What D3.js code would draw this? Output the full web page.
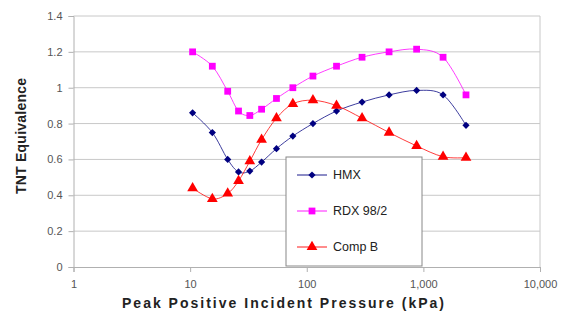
<!DOCTYPE html>
<html><head><meta charset="utf-8">
<script src="https://cdn.jsdelivr.net/npm/d3@7"></script>
<style>body{margin:0;background:#fff}svg{display:block;font-family:"Liberation Sans",Arial,sans-serif}</style>
</head><body><svg id="c" width="569" height="314"></svg>
<script>
const pressures = [10.5, 15.5, 21, 26, 32.5, 41, 55, 76, 113, 180, 298, 508, 875, 1475, 2320];
const hmx   = [0.86, 0.75, 0.60, 0.53, 0.535, 0.585, 0.66, 0.73, 0.80, 0.87, 0.92, 0.96, 0.985, 0.96, 0.79];
const rdx   = [1.20, 1.12, 0.98, 0.87, 0.845, 0.88, 0.94, 1.00, 1.065, 1.12, 1.17, 1.20, 1.215, 1.17, 0.96];
const compB = [0.44, 0.38, 0.41, 0.48, 0.59, 0.71, 0.83, 0.91, 0.93, 0.90, 0.83, 0.75, 0.675, 0.615, 0.61];
const seriesNames = ["HMX", "RDX 98/2", "Comp B"];
const seriesColors = ["#000080", "#ff00ff", "#ff0000"];
const xTicks = [1, 10, 100, 1000, 10000];
const yTicks = [0, 0.2, 0.4, 0.6, 0.8, 1, 1.2, 1.4];

const svg = d3.select("#c");
const L = 73.5, R = 540, T = 16, B = 267;
const x = d3.scaleLog().domain([1, 10000]).range([L, R]);
const y = d3.scaleLinear().domain([0, 1.4]).range([B, T]);

svg.append("g").selectAll("line").data(yTicks.filter(d => d > 0)).join("line")
  .attr("x1", L).attr("x2", R).attr("y1", d => y(d)).attr("y2", d => y(d))
  .attr("stroke", "#c8c8c8").attr("stroke-width", 1);
svg.append("line").attr("x1", R).attr("x2", R).attr("y1", T).attr("y2", B).attr("stroke", "#c8c8c8");

const yAxis = svg.append("g").attr("transform", `translate(${L},0)`)
  .call(d3.axisLeft(y).tickValues(yTicks).tickFormat(d => d3.format("")(+d.toFixed(1))).tickSize(5).tickPadding(6));
yAxis.select(".domain").attr("stroke", "#b0b0b0");
yAxis.selectAll(".tick line").attr("stroke", "#b0b0b0");
yAxis.selectAll("text").attr("font-size", 11).attr("fill", "#555").attr("font-family", "Liberation Sans, Arial, sans-serif");

const xAxis = svg.append("g").attr("transform", `translate(0,${B})`)
  .call(d3.axisBottom(x).tickValues(xTicks).tickFormat(d3.format(",")).tickSize(5).tickPadding(8));
xAxis.select(".domain").attr("stroke", "#b0b0b0");
xAxis.selectAll(".tick line").attr("stroke", "#b0b0b0");
xAxis.selectAll("text").attr("font-size", 11).attr("fill", "#555").attr("font-family", "Liberation Sans, Arial, sans-serif");

svg.append("text").attr("x", 283).attr("y", 308).attr("text-anchor", "middle")
  .attr("font-size", 14).attr("font-weight", "bold").attr("fill", "#222")
  .attr("textLength", 322).attr("lengthAdjust", "spacing")
  .text("Peak Positive Incident Pressure (kPa)");
svg.append("text").attr("transform", "translate(26,136) rotate(-90)").attr("text-anchor", "middle")
  .attr("font-size", 14).attr("font-weight", "bold").attr("fill", "#222")
  .attr("textLength", 116).attr("lengthAdjust", "spacing")
  .text("TNT Equivalence");

const seriesData = [hmx, rdx, compB];
const line = d3.line().x(d => x(d[0])).y(d => y(d[1])).curve(d3.curveCatmullRom.alpha(0));
const shapes = [
  d3.symbol().type(d3.symbolSquare).size(26)(),
  d3.symbol().type(d3.symbolSquare).size(46)(),
  d3.symbol().type(d3.symbolTriangle).size(50)()
];
const rot = [45, 0, 0];

seriesData.forEach((vals, i) => {
  const pts = pressures.map((p, j) => [p, vals[j]]);
  svg.append("path").datum(pts).attr("d", line).attr("fill", "none")
    .attr("stroke", seriesColors[i]).attr("stroke-width", 0.9).attr("opacity", 0.85);
  svg.append("g").selectAll("path").data(pts).join("path")
    .attr("d", shapes[i]).attr("transform", d => `translate(${x(d[0])},${y(d[1])}) rotate(${rot[i]})`)
    .attr("fill", seriesColors[i]);
});

const lg = svg.append("g");
lg.append("rect").attr("x", 286).attr("y", 157).attr("width", 136).attr("height", 109)
  .attr("fill", "#fff").attr("stroke", "#888").attr("stroke-width", 1);
const ly = [175, 211, 247];
seriesNames.forEach((n, i) => {
  lg.append("line").attr("x1", 297).attr("x2", 327).attr("y1", ly[i]).attr("y2", ly[i])
    .attr("stroke", seriesColors[i]).attr("stroke-width", 0.9);
  lg.append("path").attr("d", shapes[i]).attr("transform", `translate(312,${ly[i]}) rotate(${rot[i]})`).attr("fill", seriesColors[i]);
  lg.append("text").attr("x", 333).attr("y", ly[i]).attr("dy", "0.35em")
    .attr("font-size", 12.5).attr("fill", "#222").text(n);
});
</script></body></html>
